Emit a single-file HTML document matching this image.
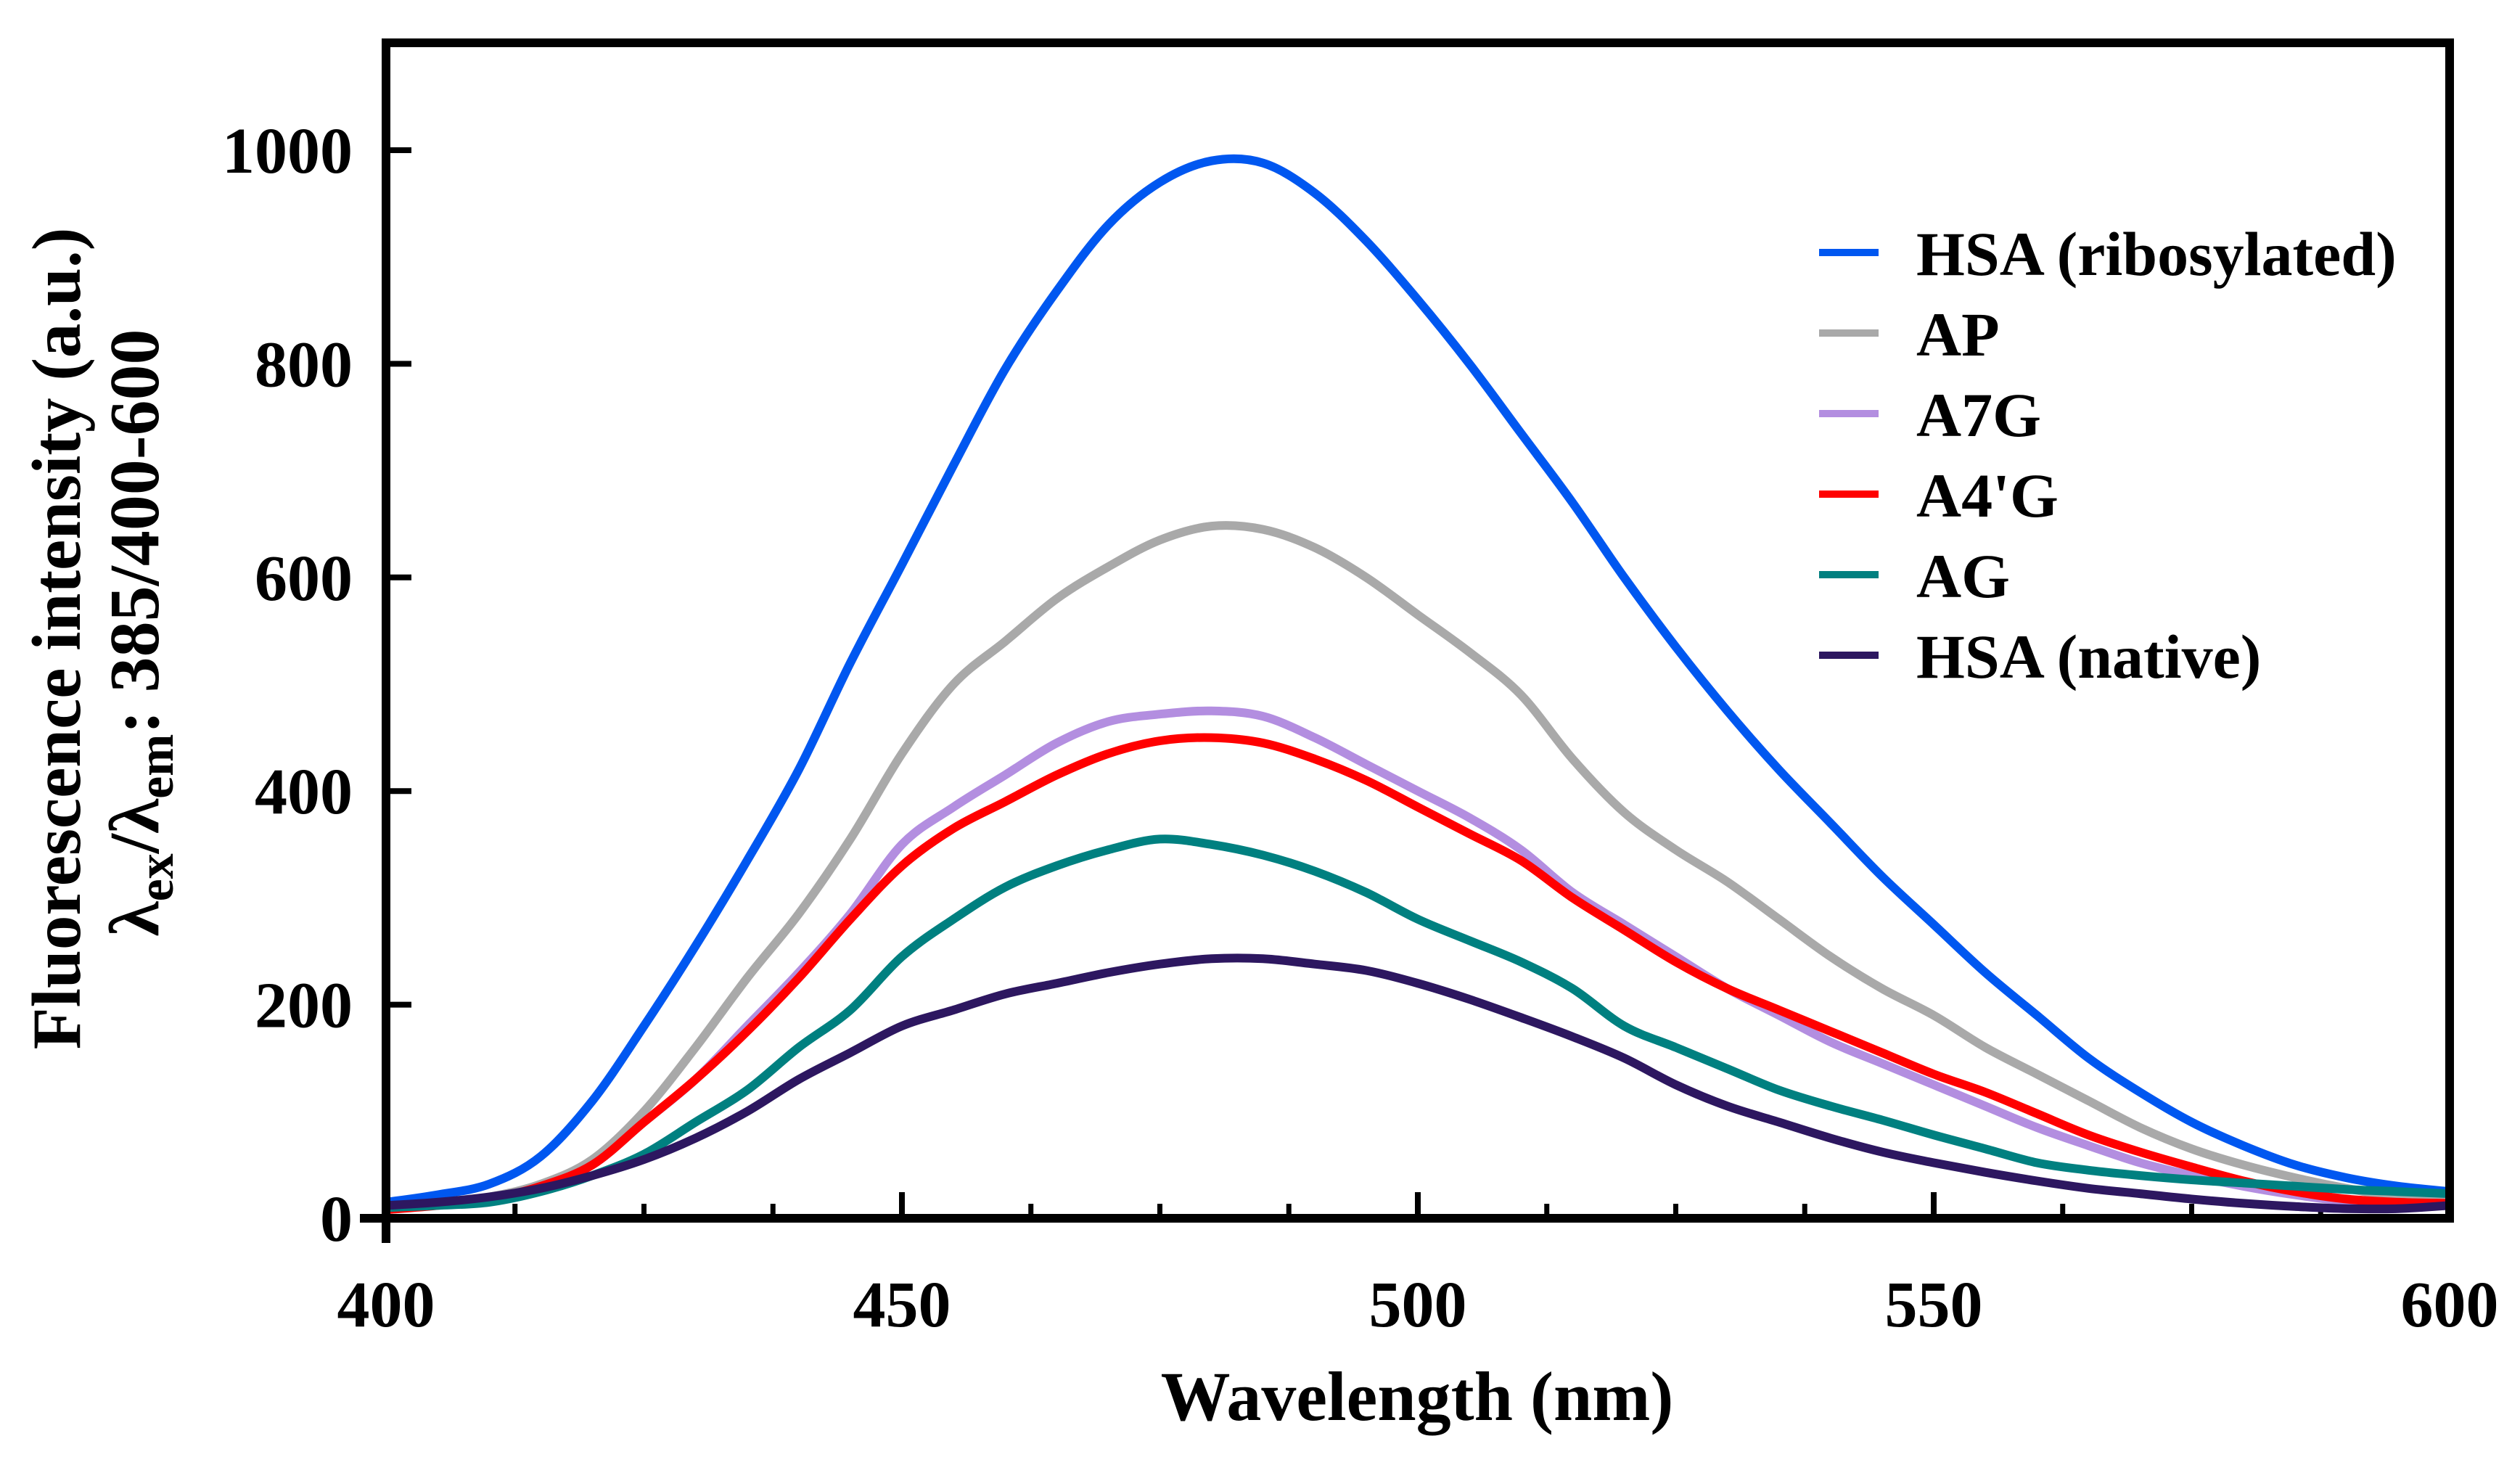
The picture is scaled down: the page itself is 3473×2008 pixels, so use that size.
<!DOCTYPE html>
<html><head><meta charset="utf-8"><style>
html,body{margin:0;padding:0;background:#fff}
svg{display:block}
text{font-family:"Liberation Serif",serif;font-weight:bold;fill:#000}
</style></head><body>
<svg id="chart" width="3473" height="2008" viewBox="0 0 3473 2008" xmlns="http://www.w3.org/2000/svg">
<defs><clipPath id="plotclip"><rect x="538" y="65" width="2832" height="1608"/></clipPath></defs>
<g id="axes"></g>
<g id="series" clip-path="url(#plotclip)"></g>
<g id="legend"></g>
<text x="1953" y="1957" font-size="96" text-anchor="middle">Wavelength (nm)</text>
<text transform="translate(110,880) rotate(-90)" font-size="95" text-anchor="middle">Fluorescence intensity (a.u.)</text>
<text transform="translate(218,872) rotate(-90)" font-size="98" text-anchor="middle">λ<tspan font-size="70" dy="20">ex</tspan><tspan dy="-20">/λ</tspan><tspan font-size="70" dy="20">em</tspan><tspan dy="-20">: 385/400-600</tspan></text>
</svg>
<script>
const wavelengths=[400,405,410,415,420,425,430,435,440,445,450,455,460,465,470,475,480,485,490,495,500,505,510,515,520,525,530,535,540,545,550,555,560,565,570,575,580,585,590,595,600];
const hsaRibosylated=[15,22,32,58,110,180,255,335,420,520,612,705,795,868,930,970,990,988,960,915,860,800,735,670,600,535,475,420,370,320,275,230,190,150,118,90,68,50,38,30,25];
const apValues=[10,14,20,32,55,100,160,225,285,355,435,500,540,580,610,635,648,645,628,600,565,530,490,430,380,345,315,280,245,215,190,160,135,110,85,65,50,38,28,20,15];
const a7gValues=[10,13,18,30,50,90,130,180,230,285,350,385,415,445,465,472,475,470,450,425,400,375,345,305,275,245,215,190,165,145,125,105,85,68,52,40,30,22,16,14,13];
const a4gValues=[8,12,18,30,50,90,130,175,225,280,330,365,390,415,435,447,450,445,430,410,385,360,335,300,270,240,215,195,175,155,135,118,98,78,62,48,35,25,18,15,14];
const agValues=[10,12,15,25,40,60,90,120,160,195,245,280,310,330,345,355,350,340,325,305,280,260,240,215,180,160,140,120,105,92,78,65,52,45,40,36,33,30,27,25,23];
const hsaNative=[12,15,20,28,40,55,75,100,130,155,180,195,210,220,230,238,243,243,238,232,220,205,188,170,150,125,105,90,75,62,52,43,35,28,23,18,14,11,9,9,12];
const seriesNames=["HSA (ribosylated)","AP","A7G","A4'G","AG","HSA (native)"];
const seriesColors=["#0057f0","#a9a9a9","#b38ee0","#ff0000","#008080","#2d1760"];
const xTicks=[400,450,500,550,600];
const yTicks=[0,200,400,600,800,1000];

const NS="http://www.w3.org/2000/svg";
const X0=532,X1=3376,Y0=1679,Y1000=207;
function xs(v){return X0+(v-400)*(X1-X0)/200;}
function ys(v){return Y0-(v)*(Y0-Y1000)/1000;}
function mk(tag,attrs,parent){const e=document.createElementNS(NS,tag);for(const k in attrs)e.setAttribute(k,attrs[k]);parent.appendChild(e);return e;}

const axes=document.getElementById('axes');
let fr=mk('rect',{x:X0,y:59,width:X1-X0,height:Y0-59,fill:"none",stroke:"#000","stroke-width":12},axes);


let ext=mk('line',{x1:X0,y1:Y0,x2:X0,y2:1713,stroke:"#000","stroke-width":12},axes);


let zt=mk('line',{x1:496,y1:Y0,x2:X0,y2:Y0,stroke:"#000","stroke-width":12},axes);


for(let v=412.5;v<600;v+=12.5){
  const major=(v%50===0);
  let t=mk('line',{x1:xs(v),y1:Y0,x2:xs(v),y2:major?Y0-36:Y0-20,stroke:"#000","stroke-width":major?8:7},axes);
  
  
}
xTicks.forEach(v=>{
  let t=mk('text',{x:xs(v),y:1828,"font-size":90,"text-anchor":"middle"},axes);
  t.textContent=String(v);
  
  
});
yTicks.forEach(v=>{
  if(v>0){
    let t=mk('line',{x1:X0,y1:ys(v),x2:X0+35,y2:ys(v),stroke:"#000","stroke-width":8},axes);
    
    
  }
  let l=mk('text',{x:486,y:ys(v)+31,"font-size":90,"text-anchor":"end"},axes);
  l.textContent=String(v);
  
  
});

function pathFor(vals){
  const p=vals.map((v,i)=>[xs(wavelengths[i]),ys(v)]);
  let d="M"+p[0][0]+","+p[0][1];
  for(let i=0;i<p.length-1;i++){
    const a=p[Math.max(0,i-1)],b=p[i],c=p[i+1],e=p[Math.min(p.length-1,i+2)];
    const c1x=b[0]+(c[0]-a[0])/6,c1y=b[1]+(c[1]-a[1])/6;
    const c2x=c[0]-(e[0]-b[0])/6,c2y=c[1]-(e[1]-b[1])/6;
    d+=" C"+c1x.toFixed(1)+","+c1y.toFixed(1)+" "+c2x.toFixed(1)+","+c2y.toFixed(1)+" "+c[0].toFixed(1)+","+c[1].toFixed(1);
  }
  return d;
}
const allSeries=[hsaRibosylated,apValues,a7gValues,a4gValues,agValues,hsaNative];
const sg=document.getElementById('series');
const slugs=["line-hsa-ribosylated","line-ap","line-a7g","line-a4g","line-ag","line-hsa-native"];
allSeries.forEach((vals,i)=>{
  let p=mk('path',{d:pathFor(vals),fill:"none",stroke:seriesColors[i],"stroke-width":12,"stroke-linejoin":"round"},sg);
  
  
});
const lg=document.getElementById('legend');
seriesNames.forEach((n,i)=>{
  const y=348+i*111;
  let g=mk('g',{},lg);
  
  
  let l=mk('line',{x1:2507,y1:y,x2:2589,y2:y,stroke:seriesColors[i],"stroke-width":10},g);
  
  
  let t=mk('text',{x:2641,y:y+31,"font-size":86},g);
  t.textContent=n;
  
  
});
</script>
</body></html>
